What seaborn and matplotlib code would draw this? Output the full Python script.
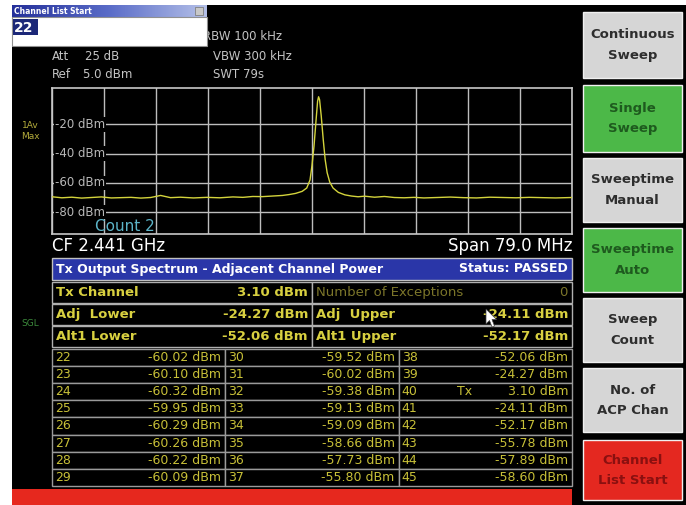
import matplotlib
matplotlib.use("Agg")
import matplotlib.pyplot as plt
from matplotlib.patches import Rectangle, Polygon
from matplotlib.colors import LinearSegmentedColormap
import numpy as np
import pandas as pd
import seaborn as sns

# trace (MHz / dBm)
trace_freq = [2401.5, 2403.0, 2404.5, 2406.0, 2407.5, 2409.0, 2410.5, 2412.0, 2413.5,
              2415.0, 2416.5, 2418.0, 2419.5, 2421.0, 2423.0, 2425.0, 2427.0, 2429.0,
              2430.5, 2432.0, 2433.5, 2435.0, 2436.5, 2437.5, 2438.5, 2439.5, 2440.2,
              2440.7, 2441.0, 2441.3, 2441.6, 2441.85, 2442.0, 2442.15, 2442.4, 2442.7,
              2443.0, 2443.3, 2443.7, 2444.2, 2445.0, 2446.0, 2447.0, 2448.0, 2449.0,
              2450.5, 2452.0, 2453.5, 2455.0, 2456.5, 2458.0, 2460.0, 2462.0, 2464.0,
              2466.0, 2468.0, 2470.0, 2472.0, 2474.0, 2476.0, 2478.0, 2480.5]
trace_level = [-69.5, -70.2, -69.8, -70.4, -70.0, -69.6, -70.3, -70.1, -69.9,
               -70.4, -70.0, -68.6, -70.1, -69.8, -70.3, -69.9, -70.2, -69.6,
               -69.9, -69.3, -69.4, -69.0, -68.6, -68.0, -67.2, -65.8, -63.5,
               -58.0, -48.0, -35.0, -18.0, -4.0, -1.0, -3.0, -14.0, -30.0,
               -44.0, -53.0, -59.5, -63.5, -66.5, -68.2, -69.0, -69.5, -69.1,
               -69.8, -69.3, -70.0, -70.2, -69.9, -70.3, -70.0, -69.7, -70.1,
               -70.3, -69.8, -70.0, -70.2, -69.9, -70.1, -70.3, -70.0]

center_ghz = 2.441
span_mhz = 79.0
ref_level = 5.0
level_ticks = [-20, -40, -60, -80]

acp_left_names = ["Tx Channel", "Adj  Lower", "Alt1 Lower"]
acp_left_values = ["3.10 dBm", "-24.27 dBm", "-52.06 dBm"]
acp_right_names = ["Number of Exceptions", "Adj  Upper", "Alt1 Upper"]
acp_right_values = ["0", "-24.11 dBm", "-52.17 dBm"]

list_channels = [22, 23, 24, 25, 26, 27, 28, 29,
                 30, 31, 32, 33, 34, 35, 36, 37,
                 38, 39, 40, 41, 42, 43, 44, 45]
list_power = [-60.02, -60.10, -60.32, -59.95, -60.29, -60.26, -60.22, -60.09,
              -59.52, -60.02, -59.38, -59.13, -59.09, -58.66, -57.73, -55.80,
              -52.06, -24.27, 3.10, -24.11, -52.17, -55.78, -57.89, -58.60]
tx_channel = 40

softkeys = ["Continuous\nSweep", "Single\nSweep", "Sweeptime\nManual", "Sweeptime\nAuto",
            "Sweep\nCount", "No. of\nACP Chan", "Channel\nList Start"]
softkey_state = ["off", "on", "off", "on", "off", "off", "active"]

sns.set_theme(style="dark")
plt.rcParams["font.family"] = ["DejaVu Sans"]

W, H = 686, 505
fig = plt.figure(figsize=(6.86, 5.05), dpi=100, facecolor="white")
cv = fig.add_axes([0, 0, 1, 1])
cv.set_facecolor("white")
cv.axis("off")

# screen
cv.add_patch(Rectangle((12, 5), W - 12, H - 5, fc="black", ec="none", zorder=0))

# header settings
grey = "#c4c4c4"
cv.text(52, 57, "Att", color=grey, fontsize=8.5, va="center")
cv.text(85, 57, "25 dB", color=grey, fontsize=8.5, va="center")
cv.text(52, 74, "Ref", color=grey, fontsize=8.5, va="center")
cv.text(83, 74, "5.0 dBm", color=grey, fontsize=8.5, va="center")
cv.text(203, 36, "RBW 100 kHz", color=grey, fontsize=8.5, va="center", zorder=1)
cv.text(213, 57, "VBW 300 kHz", color=grey, fontsize=8.5, va="center")
cv.text(213, 74, "SWT 79s", color=grey, fontsize=8.5, va="center")

# dialog box
grad = LinearSegmentedColormap.from_list("tb", ["#24309a", "#5a6cc8", "#b4c0e8"])
cv.imshow(np.linspace(0, 1, 200)[None, :], cmap=grad, aspect="auto",
          extent=(12, 207, 17, 5), zorder=3)
cv.text(14, 11, "Channel List Start", color="white", fontsize=5.5, weight="bold",
        va="center", zorder=4)
cv.add_patch(Rectangle((195, 7), 8, 8, fc="#c8c8c8", ec="#808080", lw=0.6, zorder=4))
cv.add_patch(Rectangle((12, 17), 195, 29, fc="white", ec="#909090", lw=0.8, zorder=3))
cv.add_patch(Rectangle((13, 19), 25, 16, fc="#1c2878", ec="none", zorder=4))
cv.text(14, 27.5, "22", color="white", fontsize=10, weight="bold", va="center", zorder=5)

# side labels
cv.text(30, 131, "1Av\nMax", color="#b4ac3c", fontsize=6.5, ha="center", va="center",
        linespacing=1.3)
cv.text(30, 323, "SGL", color="#3c8a3c", fontsize=6.5, ha="center", va="center")

# spectrum
L, R, T, B = 52, 572, 88, 234
ax = fig.add_axes([L / W, 1 - B / H, (R - L) / W, (B - T) / H])
ax.set_facecolor("black")
df = pd.DataFrame({"freq": trace_freq, "level": trace_level})
sns.lineplot(data=df, x="freq", y="level", ax=ax, color="#d4d43c", lw=1.0, zorder=3)
f0 = center_ghz * 1000 - span_mhz / 2
f1 = center_ghz * 1000 + span_mhz / 2
ax.set_xlim(f0, f1)
ax.set_ylim(ref_level - 100, ref_level)
ax.set_xticks(np.linspace(f0, f1, 11))
ax.set_yticks(level_ticks)
ax.grid(True, color="#bdbdbd", lw=1.0)
ax.tick_params(length=0, labelbottom=False, labelleft=False)
ax.set_xlabel("")
ax.set_ylabel("")
for s in ax.spines.values():
    s.set_visible(True)
    s.set_color("#c8c8c8")
    s.set_linewidth(1.2)
for v in level_ticks:
    ax.text(0.006, v, f"{v} dBm", transform=ax.get_yaxis_transform(), color="#b8b8b8",
            fontsize=8.5, va="center", ha="left", zorder=4,
            bbox=dict(fc="black", ec="none", pad=0.6))
ax.text(0.083, 0.0, "Count 2", transform=ax.transAxes, color="#5cb4c8", fontsize=11,
        va="bottom", ha="left", zorder=4)

cv.text(52, 246, f"CF {center_ghz:.3f} GHz", color="white", fontsize=12, va="center")
cv.text(R, 246, f"Span {span_mhz:.1f} MHz", color="white", fontsize=12, va="center",
        ha="right")

# ACP table
yel = "#d8d040"
cv.add_patch(Rectangle((L, 258), R - L, 22, fc="#2a36a8", ec="#c0c0c0", lw=1))
cv.text(56, 269, "Tx Output Spectrum - Adjacent Channel Power", color="white",
        fontsize=9, weight="bold", va="center")
cv.text(R - 4, 269, "Status: PASSED", color="white", fontsize=9, weight="bold",
        va="center", ha="right")
mid = (L + R) / 2
for i, y in enumerate([282, 304, 326]):
    cv.add_patch(Rectangle((L, y), mid - L, 21, fc="black", ec="#b0b0b0", lw=1))
    cv.add_patch(Rectangle((mid, y), R - mid, 21, fc="black", ec="#b0b0b0", lw=1))
    cv.text(56, y + 10.5, acp_left_names[i], color=yel, fontsize=9.5, weight="bold",
            va="center")
    cv.text(mid - 4, y + 10.5, acp_left_values[i], color=yel, fontsize=9.5, weight="bold",
            va="center", ha="right")
    c = "#7c762a" if i == 0 else yel
    w = "normal" if i == 0 else "bold"
    cv.text(mid + 4, y + 10.5, acp_right_names[i], color=c, fontsize=9.5, weight=w,
            va="center")
    cv.text(R - 4, y + 10.5, acp_right_values[i], color=c, fontsize=9.5, weight=w,
            va="center", ha="right")

# mouse pointer
cv.add_patch(Polygon([(486, 309), (486, 324), (489.5, 320.5), (492, 327), (494.5, 326),
                      (492, 319.5), (496.5, 319.5)], closed=True, fc="white",
                     ec="#404040", lw=0.5, zorder=5))

# channel list
top, rh = 349, 17.1
cw = (R - L) / 3
lc = "#c8c038"
for k, (ch, p) in enumerate(zip(list_channels, list_power)):
    col, row = divmod(k, 8)
    x0 = L + col * cw
    y0 = top + row * rh
    cv.add_patch(Rectangle((x0, y0), cw, rh, fc="black", ec="#9a9a9a", lw=1))
    cv.text(x0 + 3, y0 + rh / 2, str(ch), color=lc, fontsize=9, va="center")
    if ch == tx_channel:
        cv.text(x0 + 58, y0 + rh / 2, "Tx", color=lc, fontsize=9, va="center")
    cv.text(x0 + cw - 4, y0 + rh / 2, f"{p:.2f} dBm", color=lc, fontsize=9,
            va="center", ha="right")

# status bar
cv.add_patch(Rectangle((12, 489), R - 12, 16, fc="#e6281e", ec="none"))

# softkeys
tops = [12, 85, 158, 228, 298, 368, 440]
heights = [66, 67, 64, 64, 64, 64, 60]
face = {"off": "#d6d6d6", "on": "#4cb848", "active": "#e42820"}
ink = {"off": "#2e2e2e", "on": "#1e5a1e", "active": "#8a1010"}
for lab, st, t, h in zip(softkeys, softkey_state, tops, heights):
    cv.add_patch(Rectangle((583, t), 99, h, fc=face[st], ec="#f0f0f0", lw=1))
    cv.text(632.5, t + h / 2, lab, color=ink[st], fontsize=9.5, weight="bold",
            ha="center", va="center", linespacing=1.7)

cv.set_xlim(0, W)
cv.set_ylim(H, 0)
fig.savefig("out.png", dpi=100, facecolor="white")
